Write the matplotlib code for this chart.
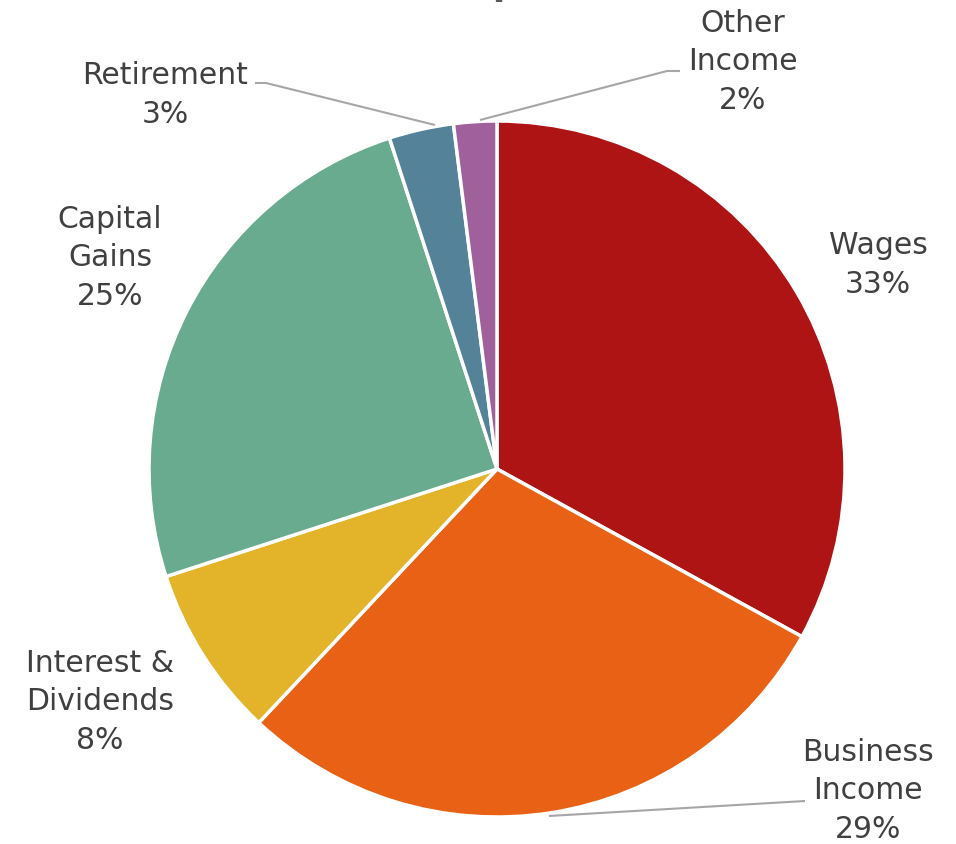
import matplotlib
matplotlib.use("Agg")
import matplotlib.pyplot as plt
from matplotlib.textpath import TextPath
from matplotlib.font_manager import FontProperties

# Income sources (percent of total)
categories = ["Wages", "Business\nIncome", "Interest &\nDividends",
              "Capital\nGains", "Retirement", "Other\nIncome"]
shares = [33, 29, 8, 25, 3, 2]
colors = ["#AF1414", "#E86114", "#E3B42A", "#68AB8F", "#538299", "#A0609C"]
title = "Income Composition"

W, H = 956, 845
fig = plt.figure(figsize=(W / 100, H / 100), dpi=100)
ax = fig.add_axes([0, 0, 1, 1])

cx, cy, r = 497, H - 470, 348
ax.pie(shares, colors=colors, startangle=90, counterclock=False,
       center=(cx, cy), radius=r,
       wedgeprops=dict(edgecolor="white", linewidth=2.5))
ax.set_xlim(0, W)
ax.set_ylim(0, H)
ax.set_aspect("auto")
ax.axis("off")

text_color = "#404040"
font = "DejaVu Sans"
fs = 21.5

# label centres (pixel coordinates from top-left)
label_pos = [(878, 265), (868, 791), (100, 702), (110, 258), (165, 95), (743, 62)]
for name, val, (px, py) in zip(categories, shares, label_pos):
    ax.text(px, H - py, f"{name}\n{val}%", ha="center", va="center",
            fontsize=fs, family=font, color=text_color, linespacing=1.42)

# leader lines
leaders = [
    [(549, 817), (805, 802)],
    [(255, 84), (266, 84), (435, 126)],
    [(680, 72), (667, 72), (480, 121)],
]
for pts in leaders:
    xs = [p[0] for p in pts]
    ys = [H - p[1] for p in pts]
    ax.plot(xs, ys, color="#A6A6A6", linewidth=1.5, solid_capstyle="butt")

# chart title sits mostly above the visible canvas
tfs = 26
fp = FontProperties(family=font, weight="bold", size=tfs)
pre_w = TextPath((0, 0), title[:title.index("p")], prop=fp).get_extents().width
scale = 100 / 72
x0 = 490 - (pre_w + 0.1 * tfs) * scale
fig.text(x0 / W, 1 + 4.5 / H, title, ha="left", va="baseline",
         fontsize=tfs, family=font, weight="bold", color="#595959")

fig.savefig("out.png", dpi=100)
